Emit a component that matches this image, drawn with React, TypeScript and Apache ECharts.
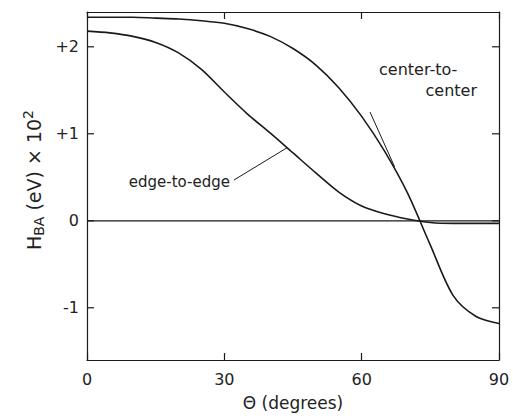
import React, { useEffect, useRef } from "react";
import * as echarts from "echarts";

const xTicks = [0, 30, 60, 90];
const yTicks = [-1, 0, 1, 2];
const yTickLabels = ["-1", "0", "+1", "+2"];

const degs = [0, 5, 10, 15, 20, 25, 30, 35, 40, 45, 50, 55, 60, 65, 70, 75, 80, 85, 90];
const centerVal = [2.34, 2.34, 2.34, 2.33, 2.32, 2.3, 2.27, 2.21, 2.12, 1.98, 1.79, 1.53, 1.2, 0.8, 0.32, -0.28, -0.86, -1.1, -1.18];
const edgeVal = [2.18, 2.16, 2.12, 2.05, 1.93, 1.74, 1.48, 1.23, 1.01, 0.78, 0.55, 0.33, 0.17, 0.08, 0.02, -0.02, -0.03, -0.03, -0.03];

const zeroLine = [[0, 0], [90, 0]];

const labelCenter = ["center-to-", "center"];
const labelEdge = "edge-to-edge";

export default function App() {
  const ref = useRef<HTMLDivElement>(null);
  useEffect(() => {
    if (!ref.current) return;
    const chart = echarts.init(ref.current, null, { renderer: "svg" });
    const font = "DejaVu Sans";
    const ink = "#1a1a1a";
    const axisCommon = {
      axisLine: { show: true, onZero: false, lineStyle: { color: ink, width: 1.2 } },
      axisTick: { show: true, inside: true, length: 7, lineStyle: { color: ink, width: 1.2 } },
      splitLine: { show: false },
    };
    const option: any = {
      animation: false,
      backgroundColor: "#fff",
      textStyle: { fontFamily: font },
      grid: { left: 87, right: 14, top: 12, bottom: 58 },
      xAxis: [
        {
          type: "value", min: 0, max: 90, interval: 30, position: "bottom",
          ...axisCommon,
          axisLabel: { show: true, color: "#222", fontSize: 16, fontFamily: font, margin: 11,
            formatter: (v: number) => (xTicks.includes(v) ? String(v) : "") },
          name: "Θ (degrees)", nameLocation: "middle", nameGap: 34,
          nameTextStyle: { color: "#222", fontSize: 17, fontFamily: font },
        },
        {
          type: "value", min: 0, max: 90, interval: 30, position: "top",
          ...axisCommon, axisLabel: { show: false },
        },
      ],
      yAxis: [
        {
          type: "value", min: -1.6, max: 2.4, position: "left",
          ...axisCommon, axisTick: { show: false }, axisLabel: { show: false },
        },
        {
          type: "value", min: -1.6, max: 2.4, position: "right",
          ...axisCommon, axisTick: { show: false }, axisLabel: { show: false },
        },
      ],
      series: [
        {
          type: "line", name: "center-to-center", showSymbol: false, smooth: 0.3,
          data: degs.map((d, i) => [d, centerVal[i]]),
          lineStyle: { color: ink, width: 1.6 }, z: 3,
        },
        {
          type: "line", name: "edge-to-edge", showSymbol: false, smooth: 0.3,
          data: degs.map((d, i) => [d, edgeVal[i]]),
          lineStyle: { color: ink, width: 1.6 }, z: 3,
        },
        {
          type: "line", name: "zero", showSymbol: false,
          data: zeroLine,
          lineStyle: { color: ink, width: 1.2 }, z: 2,
        },
      ],
    };
    chart.setOption(option);

    const g: any[] = [];
    const tickLen = 7;
    yTicks.forEach((v, i) => {
      const [xl, y] = chart.convertToPixel({ xAxisIndex: 0, yAxisIndex: 0 }, [0, v]);
      const [xr] = chart.convertToPixel({ xAxisIndex: 0, yAxisIndex: 0 }, [90, v]);
      g.push({ type: "line", shape: { x1: xl, y1: y, x2: xl + tickLen, y2: y }, style: { stroke: ink, lineWidth: 1.2 } });
      g.push({ type: "line", shape: { x1: xr, y1: y, x2: xr - tickLen, y2: y }, style: { stroke: ink, lineWidth: 1.2 } });
      g.push({
        type: "text", x: xl - 8, y,
        style: { text: yTickLabels[i], fill: "#222", font: `16px ${font}`, align: "right", verticalAlign: "middle" },
      });
    });
    g.push({
      type: "text", x: 379, y: 69,
      style: { text: labelCenter[0], fill: "#222", font: `16px ${font}`, align: "left", verticalAlign: "middle" },
    });
    g.push({
      type: "text", x: 477, y: 90,
      style: { text: labelCenter[1], fill: "#222", font: `16px ${font}`, align: "right", verticalAlign: "middle" },
    });
    g.push({
      type: "text", x: 230, y: 182,
      style: { text: labelEdge, fill: "#222", font: `15px ${font}`, align: "right", verticalAlign: "middle" },
    });
    const cEnd = chart.convertToPixel({ xAxisIndex: 0, yAxisIndex: 0 }, [67.2, 0.62]);
    g.push({ type: "line", shape: { x1: 370, y1: 112, x2: cEnd[0], y2: cEnd[1] }, style: { stroke: ink, lineWidth: 1 } });
    const eEnd = chart.convertToPixel({ xAxisIndex: 0, yAxisIndex: 0 }, [43.7, 0.84]);
    g.push({ type: "line", shape: { x1: 234, y1: 180, x2: eEnd[0], y2: eEnd[1] }, style: { stroke: ink, lineWidth: 1 } });
    g.push({
      type: "text", x: 34, y: 180, rotation: Math.PI / 2,
      style: {
        text: "{a|H}{b|BA}{a| (eV) × 10}{c|2}",
        align: "center", verticalAlign: "middle",
        rich: {
          a: { fontSize: 19, fontFamily: font, fill: "#222", color: "#222" },
          b: { fontSize: 14, fontFamily: font, fill: "#222", color: "#222", padding: [10, 0, 0, 0] },
          c: { fontSize: 14, fontFamily: font, fill: "#222", color: "#222", padding: [0, 0, 12, 0] },
        },
      },
    });
    chart.setOption({ graphic: g });

    return () => chart.dispose();
  }, []);
  return <div ref={ref} style={{ position: "fixed", left: 0, top: 0, width: 513, height: 418 }} />;
}
